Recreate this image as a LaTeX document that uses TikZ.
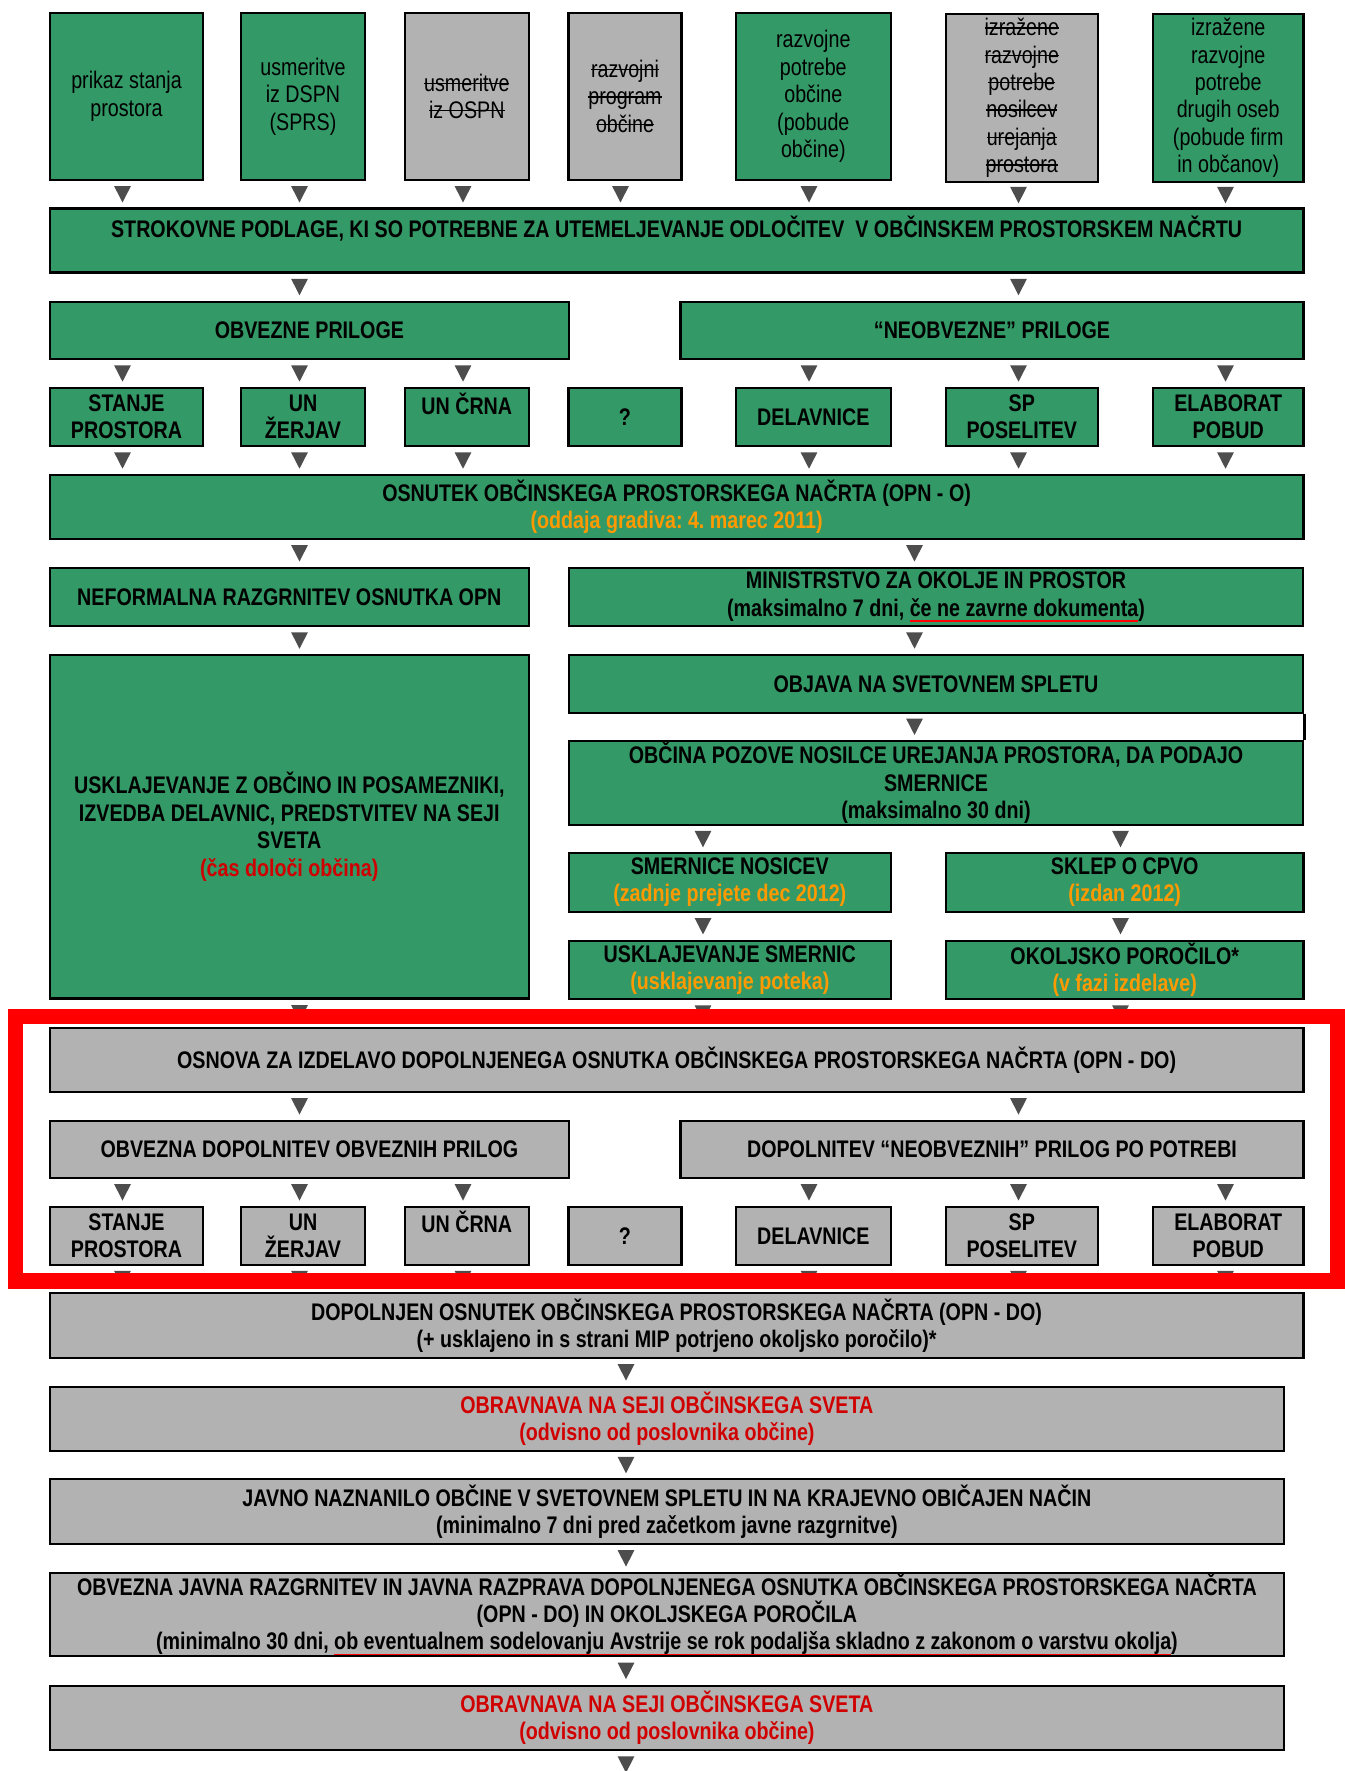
\documentclass[tikz,border=0pt]{standalone}
\usepackage{fontspec}
\setmainfont{Liberation Sans}[FakeStretch=0.82]
\usepackage{xcolor}
\frenchspacing
\definecolor{boxgreen}{HTML}{339966}
\definecolor{boxgray}{HTML}{B2B2B2}
\definecolor{noteorange}{HTML}{FF9900}
\definecolor{notered}{HTML}{D00000}
\definecolor{arrowgray}{HTML}{4D4D4D}
\newsavebox{\wordbox}
\newcommand{\strike}[1]{\sbox{\wordbox}{#1}\rlap{\rule[0.3em]{\wd\wordbox}{0.7pt}}\usebox{\wordbox}}
\newcommand{\redul}[1]{\sbox{\wordbox}{#1}\rlap{\textcolor{red}{\rule[-0.22em]{\wd\wordbox}{0.7pt}}}\usebox{\wordbox}}

\begin{document}
\begin{tikzpicture}[x=0.5pt, y=-0.5pt,
		box/.style={draw=black, line width=1.1pt, inner sep=0pt, align=center,
			font=\fontsize{12}{13.7}\selectfont\bfseries},
		gbox/.style={box, fill=boxgreen},
		xbox/.style={box, fill=boxgray},
		top/.style={minimum height=83.7pt, font=\fontsize{12}{13.7}\selectfont},
		row/.style={minimum height=29pt},
		tri/.style={rectangle, inner sep=0pt, minimum width=8.4pt, minimum height=8.2pt,
			path picture={\fill[arrowgray] (path picture bounding box.north west)
				-- (path picture bounding box.north east)
				-- (path picture bounding box.south) -- cycle;}}]
	\useasboundingbox (0, 0) rectangle (1344, 1771);

	\node[gbox, top, minimum width=76.8pt] (t1) at (126.5, 96.4) {prikaz stanja\\prostora};
	\node[gbox, top, minimum width=62pt] (t2) at (303, 96.4) {usmeritve\\iz DSPN\\(SPRS)};
	\node[xbox, top, minimum width=62.2pt] (t3) at (466.8, 96.4) {\strike{usmeritve}\\\strike{iz OSPN}};
	\node[xbox, top, minimum width=56.5pt] (t4) at (625, 96.4) {\strike{razvojni}\\\strike{program}\\\strike{občine}};
	\node[gbox, top, minimum width=77.7pt] (t5) at (813.3, 96.4) {razvojne\\potrebe\\občine\\(pobude\\občine)};
	\node[xbox, top, minimum width=76.2pt] (t6) at (1021.8, 98) {\strike{izražene}\\\strike{razvojne}\\\strike{potrebe}\\\strike{nosilcev}\\\strike{urejanja}\\\strike{prostora}};
	\node[gbox, top, minimum width=75.3pt] (t7) at (1228.2, 98) {izražene\\razvojne\\potrebe\\drugih oseb\\(pobude firm\\in občanov)};

	\node[gbox, minimum width=626.9pt, minimum height=32pt] (strok) at (676.6, 240.5)
		{STROKOVNE PODLAGE, KI SO POTREBNE ZA UTEMELJEVANJE ODLOČITEV~ V OBČINSKEM PROSTORSKEM NAČRTU\\\mbox{}};

	\node[gbox, minimum width=259.7pt, minimum height=28.7pt] (obv) at (309.4, 330.3) {OBVEZNE PRILOGE};
	\node[gbox, minimum width=311.5pt, minimum height=28.7pt] (neobv) at (992, 330.3) {“NEOBVEZNE” PRILOGE};

	\node[gbox, row, minimum width=76.8pt] (a1) at (126.5, 417) {STANJE\\PROSTORA};
	\node[gbox, row, minimum width=62pt] (a2) at (303, 417) {UN\\ŽERJAV};
	\node[gbox, row, minimum width=62.2pt] (a3) at (466.8, 417) {UN ČRNA\\\mbox{}};
	\node[gbox, row, minimum width=56.5pt] (a4) at (625, 417) {?};
	\node[gbox, row, minimum width=77.7pt] (a5) at (813.3, 417) {DELAVNICE};
	\node[gbox, row, minimum width=76.2pt] (a6) at (1021.8, 417) {SP\\POSELITEV};
	\node[gbox, row, minimum width=75.3pt] (a7) at (1228.2, 417) {ELABORAT\\POBUD};

	\node[gbox, minimum width=626.9pt, minimum height=32pt] (osnutek) at (676.6, 507)
		{OSNUTEK OBČINSKEGA PROSTORSKEGA NAČRTA (OPN - O)\\\textcolor{noteorange}{(oddaja gradiva: 4. marec 2011)}};

	\node[gbox, minimum width=239.5pt, minimum height=29.2pt] (neform) at (289.3, 596.8) {NEFORMALNA RAZGRNITEV OSNUTKA OPN};
	\node[gbox, minimum width=367.3pt, minimum height=29.2pt] (mop) at (936, 596.8)
		{MINISTRSTVO ZA OKOLJE IN PROSTOR\\(maksimalno 7 dni, \redul{če ne zavrne dokumenta})};

	\node[gbox, minimum width=239.5pt, minimum height=171.7pt] (uskl) at (289.3, 826.8)
		{USKLAJEVANJE Z OBČINO IN POSAMEZNIKI,\\IZVEDBA DELAVNIC, PREDSTVITEV NA SEJI\\SVETA\\\textcolor{notered}{(čas določi občina)}};
	\node[gbox, minimum width=367.3pt, minimum height=28.9pt] (objava) at (936, 683.9) {OBJAVA NA SVETOVNEM SPLETU};
	\node[gbox, minimum width=367.3pt, minimum height=42.2pt] (poziv) at (936, 782.9)
		{OBČINA POZOVE NOSILCE UREJANJA PROSTORA, DA PODAJO\\SMERNICE\\(maksimalno 30 dni)};
	\node[gbox, minimum width=161pt, minimum height=29.3pt] (smern) at (729.8, 882.4)
		{SMERNICE NOSICEV\\\textcolor{noteorange}{(zadnje prejete dec 2012)}};
	\node[gbox, minimum width=178.7pt, minimum height=29.3pt] (sklep) at (1124.7, 882.4)
		{SKLEP O CPVO\\\textcolor{noteorange}{(izdan 2012)}};
	\node[gbox, minimum width=161pt, minimum height=29.2pt] (usksm) at (729.8, 969.9)
		{USKLAJEVANJE SMERNIC\\\textcolor{noteorange}{(usklajevanje poteka)}};
	\node[gbox, minimum width=178.7pt, minimum height=29.2pt] (okolj) at (1124.7, 969.9)
		{OKOLJSKO POROČILO*\\\textcolor{noteorange}{(v fazi izdelave)}};

	\node[xbox, minimum width=626.9pt, minimum height=32pt] (osnova) at (676.6, 1060)
		{OSNOVA ZA IZDELAVO DOPOLNJENEGA OSNUTKA OBČINSKEGA PROSTORSKEGA NAČRTA (OPN - DO)};
	\node[xbox, minimum width=259.7pt, minimum height=28.5pt] (dobv) at (309.4, 1149.2) {OBVEZNA DOPOLNITEV OBVEZNIH PRILOG};
	\node[xbox, minimum width=311.5pt, minimum height=28.5pt] (dneobv) at (992, 1149.2) {DOPOLNITEV “NEOBVEZNIH” PRILOG PO POTREBI};

	\node[xbox, row, minimum width=76.8pt] (b1) at (126.5, 1235.9) {STANJE\\PROSTORA};
	\node[xbox, row, minimum width=62pt] (b2) at (303, 1235.9) {UN\\ŽERJAV};
	\node[xbox, row, minimum width=62.2pt] (b3) at (466.8, 1235.9) {UN ČRNA\\\mbox{}};
	\node[xbox, row, minimum width=56.5pt] (b4) at (625, 1235.9) {?};
	\node[xbox, row, minimum width=77.7pt] (b5) at (813.3, 1235.9) {DELAVNICE};
	\node[xbox, row, minimum width=76.2pt] (b6) at (1021.8, 1235.9) {SP\\POSELITEV};
	\node[xbox, row, minimum width=75.3pt] (b7) at (1228.2, 1235.9) {ELABORAT\\POBUD};

	\node[xbox, minimum width=626.9pt, minimum height=32.5pt] (dopol) at (676.6, 1325.5)
		{DOPOLNJEN OSNUTEK OBČINSKEGA PROSTORSKEGA NAČRTA (OPN - DO)\\(+ usklajeno in s strani MIP potrjeno okoljsko poročilo)*};
	\node[xbox, text=notered, minimum width=617.2pt, minimum height=32.2pt] (seja1) at (666.9, 1418.9)
		{OBRAVNAVA NA SEJI OBČINSKEGA SVETA\\(odvisno od poslovnika občine)};
	\node[xbox, minimum width=617.2pt, minimum height=32.5pt] (javno) at (666.9, 1511.5)
		{JAVNO NAZNANILO OBČINE V SVETOVNEM SPLETU IN NA KRAJEVNO OBIČAJEN NAČIN\\(minimalno 7 dni pred začetkom javne razgrnitve)};
	\node[xbox, minimum width=617.2pt, minimum height=41.7pt] (razgr) at (666.9, 1614.4)
		{OBVEZNA JAVNA RAZGRNITEV IN JAVNA RAZPRAVA DOPOLNJENEGA OSNUTKA OBČINSKEGA PROSTORSKEGA NAČRTA\\(OPN - DO) IN OKOLJSKEGA POROČILA\\(minimalno 30 dni, \redul{ob eventualnem sodelovanju Avstrije se rok podaljša skladno z zakonom o varstvu okolja})};
	\node[xbox, text=notered, minimum width=617.2pt, minimum height=32.2pt] (seja2) at (666.9, 1717.9)
		{OBRAVNAVA NA SEJI OBČINSKEGA SVETA\\(odvisno od poslovnika občine)};
	\coordinate (fin) at (626, 1778);

	\draw[line width=1.1pt] (objava.south east) -- (poziv.north east);

	\foreach \n/\x in {t1/122.5, t2/299.5, t3/463, t4/620.5, t5/809, t6/1018.5, t7/1225.5}
		\path (\n.south -| \x,0) -- (strok.north -| \x,0) node[tri, midway] {};
	\path (strok.south -| 299.5,0) -- (obv.north -| 299.5,0) node[tri, midway] {};
	\path (strok.south -| 1018.5,0) -- (neobv.north -| 1018.5,0) node[tri, midway] {};
	\foreach \n/\x in {a1/122.5, a2/299.5, a3/463}
		\path (obv.south -| \x,0) -- (\n.north -| \x,0) node[tri, midway] {};
	\foreach \n/\x in {a5/809, a6/1018.5, a7/1225.5}
		\path (neobv.south -| \x,0) -- (\n.north -| \x,0) node[tri, midway] {};
	\foreach \n/\x in {a1/122.5, a2/299.5, a3/463, a5/809, a6/1018.5, a7/1225.5}
		\path (\n.south -| \x,0) -- (osnutek.north -| \x,0) node[tri, midway] {};
	\path (osnutek.south -| 299.5,0) -- (neform.north -| 299.5,0) node[tri, midway] {};
	\path (osnutek.south -| 914.5,0) -- (mop.north -| 914.5,0) node[tri, midway] {};
	\path (neform.south -| 299.5,0) -- (uskl.north -| 299.5,0) node[tri, midway] {};
	\path (mop.south -| 914.5,0) -- (objava.north -| 914.5,0) node[tri, midway] {};
	\path (objava.south -| 914.5,0) -- (poziv.north -| 914.5,0) node[tri, midway] {};
	\path (poziv.south -| 703,0) -- (smern.north -| 703,0) node[tri, midway] {};
	\path (poziv.south -| 1120.5,0) -- (sklep.north -| 1120.5,0) node[tri, midway] {};
	\path (smern.south -| 703,0) -- (usksm.north -| 703,0) node[tri, midway] {};
	\path (sklep.south -| 1120.5,0) -- (okolj.north -| 1120.5,0) node[tri, midway] {};
	\path (uskl.south -| 299.5,0) -- (osnova.north -| 299.5,0) node[tri, midway] {};
	\path (usksm.south -| 703,0) -- (osnova.north -| 703,0) node[tri, midway] {};
	\path (okolj.south -| 1120.5,0) -- (osnova.north -| 1120.5,0) node[tri, midway] {};
	\path (osnova.south -| 299.5,0) -- (dobv.north -| 299.5,0) node[tri, midway] {};
	\path (osnova.south -| 1018.5,0) -- (dneobv.north -| 1018.5,0) node[tri, midway] {};
	\foreach \n/\x in {b1/122.5, b2/299.5, b3/463}
		\path (dobv.south -| \x,0) -- (\n.north -| \x,0) node[tri, midway] {};
	\foreach \n/\x in {b5/809, b6/1018.5, b7/1225.5}
		\path (dneobv.south -| \x,0) -- (\n.north -| \x,0) node[tri, midway] {};
	\foreach \n/\x in {b1/122.5, b2/299.5, b3/463, b5/809, b6/1018.5, b7/1225.5}
		\path (\n.south -| \x,0) -- (dopol.north -| \x,0) node[tri, midway] {};
	\path (dopol.south -| 626,0) -- (seja1.north -| 626,0) node[tri, midway] {};
	\path (seja1.south -| 626,0) -- (javno.north -| 626,0) node[tri, midway] {};
	\path (javno.south -| 626,0) -- (razgr.north -| 626,0) node[tri, midway] {};
	\path (razgr.south -| 626,0) -- (seja2.north -| 626,0) node[tri, midway] {};
	\path (seja2.south -| 626,0) -- (fin) node[tri, midway] {};

	\draw[red, line width=7.75pt] (15.5, 1016.5) rectangle (1338, 1281);
\end{tikzpicture}
\end{document}
